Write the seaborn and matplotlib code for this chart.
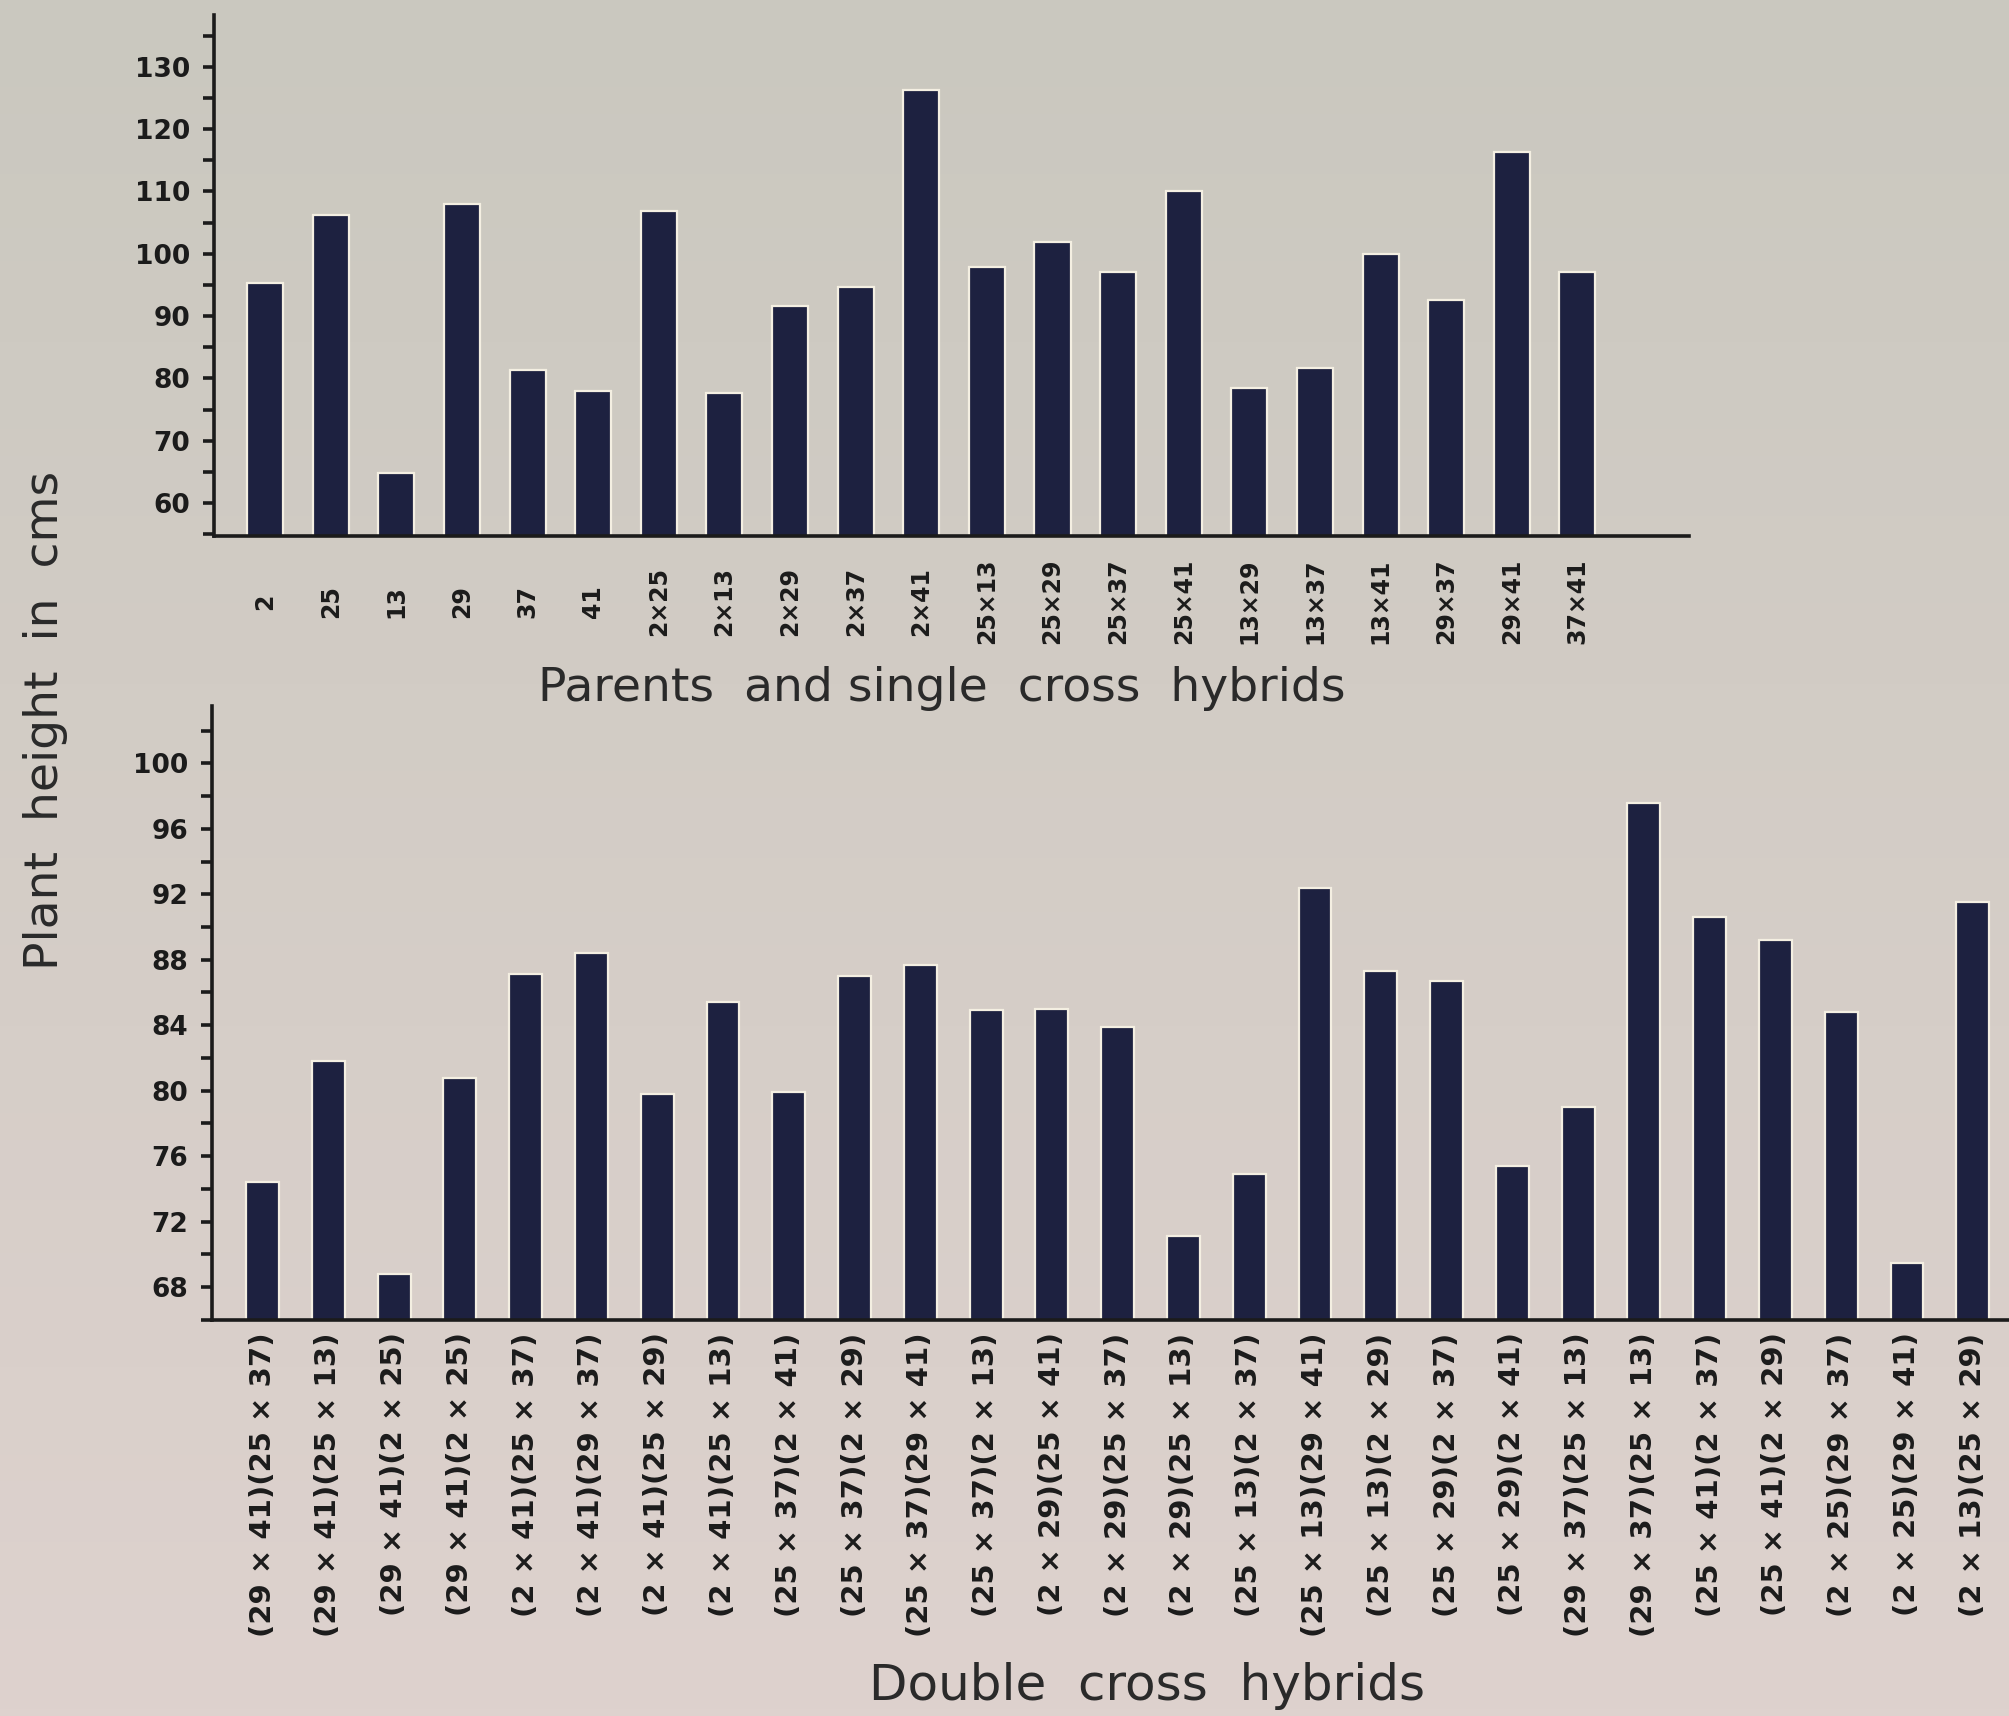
import numpy as np
import pandas as pd
import matplotlib
matplotlib.use("Agg")
import matplotlib.pyplot as plt
from matplotlib.ticker import MultipleLocator, FuncFormatter
import seaborn as sns

# Parents and single cross hybrids (plant height, cm)
single_labels = ["2", "25", "13", "29", "37", "41",
                 "2×25", "2×13", "2×29", "2×37", "2×41",
                 "25×13", "25×29", "25×37", "25×41",
                 "13×29", "13×37", "13×41", "29×37", "29×41", "37×41"]
single_heights = [95.3, 106.2, 64.8, 108.0, 81.3, 78.0,
                  106.8, 77.7, 91.6, 94.6, 126.2,
                  97.8, 101.8, 97.0, 110.0,
                  78.5, 81.7, 100.0, 92.5, 116.3, 97.0]

# Double cross hybrids (plant height, cm)
double_labels = ["(29 × 41)(25 × 37)", "(29 × 41)(25 × 13)", "(29 × 41)(2 × 25)",
                 "(29 × 41)(2 × 25)", "(2 × 41)(25 × 37)", "(2 × 41)(29 × 37)",
                 "(2 × 41)(25 × 29)", "(2 × 41)(25 × 13)", "(25 × 37)(2 × 41)",
                 "(25 × 37)(2 × 29)", "(25 × 37)(29 × 41)", "(25 × 37)(2 × 13)",
                 "(2 × 29)(25 × 41)", "(2 × 29)(25 × 37)", "(2 × 29)(25 × 13)",
                 "(25 × 13)(2 × 37)", "(25 × 13)(29 × 41)", "(25 × 13)(2 × 29)",
                 "(25 × 29)(2 × 37)", "(25 × 29)(2 × 41)", "(29 × 37)(25 × 13)",
                 "(29 × 37)(25 × 13)", "(25 × 41)(2 × 37)", "(25 × 41)(2 × 29)",
                 "(2 × 25)(29 × 37)", "(2 × 25)(29 × 41)", "(2 × 13)(25 × 29)"]
double_heights = [74.4, 81.8, 68.8, 80.8, 87.1, 88.4, 79.8, 85.4, 79.9,
                  87.0, 87.7, 84.9, 85.0, 83.9, 71.1, 74.9, 92.4, 87.3,
                  86.7, 75.4, 79.0, 97.6, 90.6, 89.2, 84.8, 69.5, 91.5]

BAR = "#1d2140"
EDGE = "#f4efe2"
INK = "#1b1b1b"

sns.set_theme(style="white")
plt.rcParams["font.family"] = ["DejaVu Sans"]

fig = plt.figure(figsize=(20.09, 17.16), dpi=100)

# paper-toned backdrop, greyer at the top and warmer towards the bottom
bg = fig.add_axes([0, 0, 1, 1], zorder=-10)
top_c = np.array([202, 200, 191]) / 255
bot_c = np.array([222, 210, 206]) / 255
t = np.linspace(0, 1, 256)[:, None, None]
grad = top_c * (1 - t) + bot_c * t
bg.imshow(np.repeat(grad, 2, axis=1), aspect="auto", extent=[0, 1, 0, 1])
bg.set_axis_off()


def style_axis(ax, labels, ymin, ymax, major, minor, xlim, lab_size, lab_pad, va):
    ax.set_facecolor("none")
    ax.set_ylim(ymin, ymax)
    ax.set_xlim(*xlim)
    for s in ("top", "right"):
        ax.spines[s].set_visible(False)
    for s in ("left", "bottom"):
        ax.spines[s].set_color(INK)
        ax.spines[s].set_linewidth(2.6)
    ax.set_xlabel("")
    ax.set_ylabel("")
    ax.yaxis.set_major_locator(MultipleLocator(major))
    ax.yaxis.set_minor_locator(MultipleLocator(minor))
    ax.yaxis.set_major_formatter(FuncFormatter(
        lambda v, p: f"{v:.0f}" if v >= ymin + 1 else ""))
    ax.tick_params(axis="y", which="both", left=True, direction="out",
                   length=8, width=2.6, color=INK, pad=9)
    ax.tick_params(axis="y", which="major", labelsize=19, labelcolor=INK)
    for lab in ax.get_yticklabels():
        lab.set_fontweight("bold")
    ax.set_xticks(range(len(labels)))
    ax.set_xticklabels(labels, rotation=90, fontsize=lab_size,
                       fontweight="bold", color=INK)
    ax.tick_params(axis="x", length=0, pad=lab_pad)
    for lab in ax.get_xticklabels():
        lab.set_va(va)
    ax.grid(False)


# upper panel
ax1 = fig.add_axes([0.1065, 0.6876, 0.7342, 0.3037])
df1 = pd.DataFrame({"pos": np.arange(len(single_labels)), "height": single_heights})
sns.barplot(data=df1, x="pos", y="height", color=BAR, width=0.55,
            edgecolor=EDGE, linewidth=1.6, saturation=1, ax=ax1)
style_axis(ax1, single_labels, 54.7, 138.3, 10, 5, (-0.78, 21.7), 17, 47, "center")

# lower panel
ax2 = fig.add_axes([0.1055, 0.2308, 0.8945, 0.3578])
df2 = pd.DataFrame({"pos": np.arange(len(double_labels)), "height": double_heights})
sns.barplot(data=df2, x="pos", y="height", color=BAR, width=0.5,
            edgecolor=EDGE, linewidth=1.6, saturation=1, ax=ax2)
style_axis(ax2, double_labels, 66.0, 103.5, 4, 2, (-0.77, 26.55), 21, 9, "top")

fig.text(0.0225, 0.58, "Plant  height  in  cms", rotation=90, ha="center",
         va="center", fontsize=34, color="#2a2a2a")
fig.text(0.469, 0.599, "Parents  and single  cross  hybrids", ha="center",
         va="center", fontsize=34, color="#2a2a2a")
fig.text(0.571, 0.0175, "Double  cross  hybrids", ha="center", va="center",
         fontsize=36, color="#2a2a2a")

fig.savefig("out.png", dpi=100)
